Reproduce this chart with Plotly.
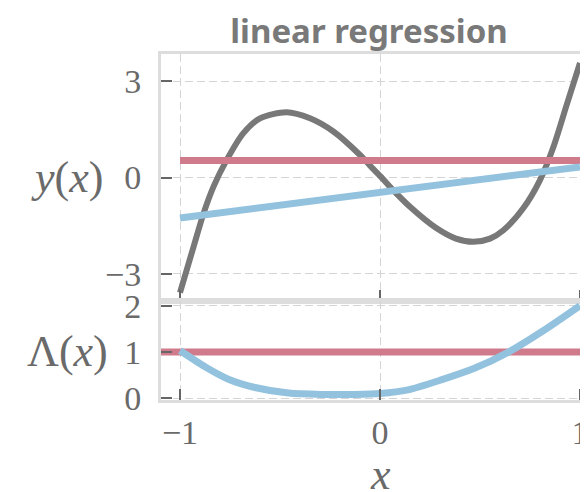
import plotly.graph_objects as go
from plotly.subplots import make_subplots

# ---- data ----
x_curve = [-1.0, -0.933, -0.883, -0.833, -0.767, -0.683, -0.6, -0.467, -0.35, -0.233,
           -0.1, -0.05, 0.0, 0.05, 0.15, 0.283, 0.38, 0.467, 0.55, 0.617, 0.717, 0.80, 0.867, 0.933, 1.0]
y_curve = [-3.58, -2.17, -1.13, -0.29, 0.54, 1.38, 1.84, 2.03, 1.84, 1.43,
           0.70, 0.37, 0.05, -0.29, -0.91, -1.58, -1.9, -2.0, -1.9, -1.64, -0.95, -0.08, 0.95, 2.25, 3.56]

x_fit = [-1.0, 1.0]
y_fit = [-1.26, 0.33]

x_const = [-1.0, 1.0]
y_const = [0.53, 0.53]

x_lam = [-1.0, -0.875, -0.758, -0.625, -0.458, -0.29, -0.125, 0.0, 0.14, 0.31, 0.475, 0.64, 0.81, 1.0]
y_lam = [1.03, 0.68, 0.41, 0.23, 0.11, 0.08, 0.08, 0.10, 0.18, 0.40, 0.65, 0.99, 1.44, 2.0]

x_lam_const = [-1.2, 1.2]
y_lam_const = [1.0, 1.0]

top_ticks = [-3, 0, 3]
top_ticktext = ["\u22123", "0", "3"]
bot_ticks = [0, 1, 2]
bot_ticktext = ["0", "1", "2"]
x_ticks = [-1, 0, 1]
x_ticktext = ["\u22121", "0", "1"]

GRAY = "#787878"
PINK = "#d07b8c"
BLUE = "#93c2df"
FRAME = "#dddddd"
GRID = "#d4d4d4"
TXT = "#6a6a6a"
SERIF = "Liberation Serif, DejaVu Serif, serif"

# page body has an 8px margin, so the figure is drawn at (8, 8)
OFF = 8
W, H = 588 - OFF, 492 - OFF
L, T, B = 161 - OFF, 54 - OFF, H - (400 - OFF)
PW, PH = W - L, H - T - B

fig = make_subplots(rows=2, cols=1, shared_xaxes=True, vertical_spacing=0,
                    row_heights=[247, 99])

fig.add_trace(go.Scatter(x=x_curve, y=y_curve, mode="lines", line=dict(color=GRAY, width=6, shape="spline", smoothing=0.8)), 1, 1)
fig.add_trace(go.Scatter(x=x_const, y=y_const, mode="lines", line=dict(color=PINK, width=7)), 1, 1)
fig.add_trace(go.Scatter(x=x_fit, y=y_fit, mode="lines", line=dict(color=BLUE, width=7)), 1, 1)

fig.add_trace(go.Scatter(x=x_lam_const, y=y_lam_const, mode="lines", line=dict(color=PINK, width=7)), 2, 1)
fig.add_trace(go.Scatter(x=x_lam, y=y_lam, mode="lines", line=dict(color=BLUE, width=7, shape="spline", smoothing=0.8)), 2, 1)

common_x = dict(range=[-1.095, 1.04], tickvals=x_ticks, ticktext=x_ticktext, automargin=False,
                showgrid=True, gridcolor=GRID, griddash="8px,4px", gridwidth=1.3,
                zeroline=False, showline=True, mirror=True, linecolor=FRAME, linewidth=3,
                ticks="inside", ticklen=11, tickwidth=2, tickcolor="#666666",
                ticklabeloverflow="allow",
                tickfont=dict(family=SERIF, size=34, color=TXT))
fig.update_xaxes(**common_x)
fig.update_xaxes(showticklabels=False, row=1, col=1)
fig.update_xaxes(showticklabels=True, row=2, col=1)

common_y = dict(showgrid=True, gridcolor=GRID, griddash="8px,4px", gridwidth=1.3, automargin=False,
                zeroline=False, showline=True, mirror=False, linecolor=FRAME, linewidth=3,
                ticks="inside", ticklen=11, tickwidth=2, tickcolor="#666666",
                tickfont=dict(family=SERIF, size=34, color=TXT), ticklabelstandoff=10)
fig.update_yaxes(**common_y)
fig.update_yaxes(range=[-3.84, 3.84], tickvals=top_ticks, ticktext=top_ticktext, row=1, col=1)
fig.update_yaxes(range=[-0.04, 2.10], tickvals=bot_ticks, ticktext=bot_ticktext, row=2, col=1)

fig.update_layout(
    width=W, height=H,
    margin=dict(l=L, r=0, t=T, b=B, autoexpand=False),
    paper_bgcolor="white", plot_bgcolor="white",
    showlegend=False,
    title=dict(text="<b>linear regression</b>", x=(369 - OFF) / W, xref="container", xanchor="center",
               y=1 - (31 - OFF) / H, yref="container", yanchor="middle",
               font=dict(family="Noto Sans, sans-serif", size=33, color="#797979")),
)

lab_font = dict(family=SERIF, size=44, color=TXT)
fig.add_annotation(text="<i>y</i>(<i>x</i>)", xref="paper", yref="y", x=(67 - 161) / PW, y=0,
                   xanchor="center", yanchor="middle", showarrow=False, font=lab_font)
fig.add_annotation(text="\u039b(<i>x</i>)", xref="paper", yref="y2", x=(67 - 161) / PW, y=1,
                   xanchor="center", yanchor="middle", showarrow=False, font=lab_font)
fig.add_annotation(text="<i>x</i>", xref="paper", yref="paper", x=(380 - 161) / PW, y=-(474 - 400) / PH,
                   xanchor="center", yanchor="middle", showarrow=False, font=lab_font)

fig.write_html("out.html")
